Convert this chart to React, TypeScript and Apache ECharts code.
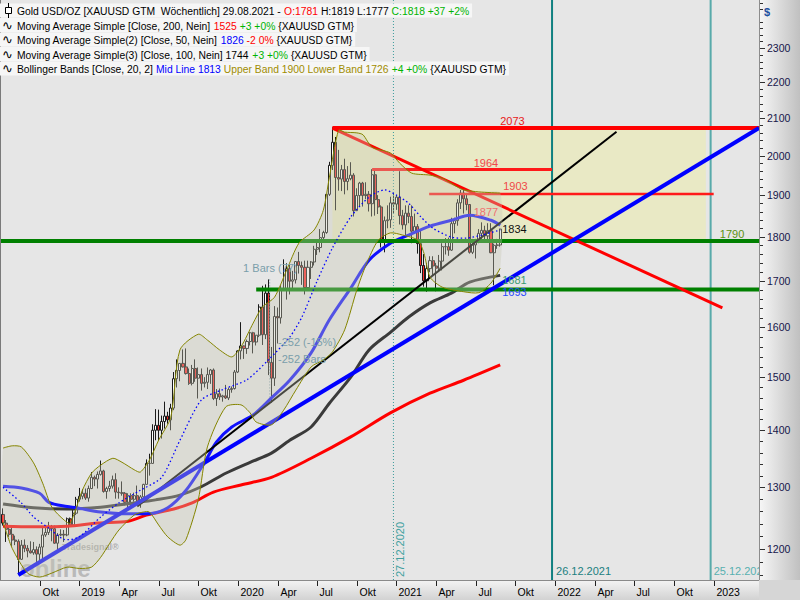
import React, { useEffect, useRef } from "react";
import * as echarts from "echarts";

const FONT = "'Liberation Sans', Arial, sans-serif";

// ---------- axes ----------
const FIRST_WEEK = "2018-07-15"; // weekly bars, dated by the Sunday closing the week
const X_MIN = "2018-07-08";
const X_MAX = "2023-04-15";
const Y_MIN = 1152.6;
const Y_MAX = 2448;
const yTickValues = [1200, 1300, 1400, 1500, 1600, 1700, 1800, 1900, 2000, 2100, 2200, 2300];
const xTickDates = ["2018-10-07", "2019-01-06", "2019-04-07", "2019-07-07", "2019-10-06", "2020-01-05", "2020-04-05", "2020-07-05", "2020-10-04", "2021-01-03", "2021-04-04", "2021-07-04", "2021-10-03", "2022-01-02", "2022-04-03", "2022-07-03", "2022-10-02", "2023-01-01"];
const xTickLabels = ["Okt", "2019", "Apr", "Jul", "Okt", "2020", "Apr", "Jul", "Okt", "2021", "Apr", "Jul", "Okt", "2022", "Apr", "Jul", "Okt", "2023"];

// ---------- weekly candles [open, high, low, close] ----------
const ohlc: number[][] = [
  [1255, 1265, 1237, 1241], [1241, 1246, 1211, 1231], [1231, 1236, 1219, 1223], [1223, 1236, 1204, 1214],
  [1214, 1221, 1206, 1212], [1212, 1215, 1160, 1184], [1184, 1214, 1183, 1206], [1206, 1215, 1195, 1201],
  [1201, 1206, 1187, 1197], [1197, 1212, 1193, 1194], [1194, 1211, 1191, 1199], [1199, 1204, 1180, 1192],
  [1192, 1208, 1182, 1203], [1203, 1233, 1182, 1222], [1222, 1234, 1219, 1226], [1226, 1243, 1222, 1233],
  [1233, 1238, 1212, 1232], [1232, 1237, 1208, 1209], [1209, 1225, 1196, 1222], [1222, 1231, 1220, 1223],
  [1223, 1230, 1211, 1222], [1222, 1250, 1220, 1248], [1248, 1250, 1235, 1238], [1238, 1264, 1237, 1257],
  [1257, 1284, 1254, 1280], [1280, 1299, 1276, 1285], [1285, 1297, 1280, 1290], [1290, 1298, 1279, 1282],
  [1282, 1303, 1276, 1298], [1298, 1326, 1297, 1317], [1317, 1320, 1302, 1314], [1314, 1327, 1298, 1322],
  [1322, 1346, 1320, 1328], [1328, 1330, 1291, 1293], [1293, 1301, 1281, 1298], [1298, 1311, 1293, 1302],
  [1302, 1320, 1298, 1313], [1313, 1324, 1281, 1292], [1292, 1300, 1281, 1291], [1291, 1310, 1286, 1290],
  [1290, 1292, 1270, 1275], [1275, 1290, 1266, 1286], [1286, 1290, 1267, 1280], [1280, 1291, 1276, 1286],
  [1286, 1303, 1274, 1277], [1277, 1287, 1266, 1284], [1284, 1306, 1280, 1305], [1305, 1348, 1305, 1341],
  [1341, 1358, 1320, 1341], [1341, 1411, 1341, 1400], [1400, 1439, 1382, 1409], [1409, 1438, 1381, 1400],
  [1400, 1427, 1385, 1416], [1416, 1453, 1403, 1426], [1426, 1434, 1412, 1419], [1419, 1449, 1400, 1441],
  [1441, 1510, 1437, 1497], [1497, 1535, 1480, 1513], [1513, 1527, 1492, 1527], [1527, 1555, 1519, 1520],
  [1520, 1557, 1505, 1507], [1507, 1517, 1485, 1488], [1488, 1524, 1484, 1517], [1517, 1535, 1491, 1498],
  [1498, 1519, 1459, 1505], [1505, 1517, 1474, 1488], [1488, 1500, 1480, 1490], [1490, 1519, 1477, 1505],
  [1505, 1516, 1487, 1514], [1514, 1517, 1456, 1459], [1459, 1477, 1445, 1468], [1468, 1478, 1456, 1462],
  [1462, 1466, 1453, 1464], [1464, 1485, 1458, 1460], [1460, 1480, 1456, 1476], [1476, 1482, 1470, 1478],
  [1478, 1514, 1476, 1510], [1510, 1553, 1508, 1552], [1552, 1611, 1535, 1562], [1562, 1563, 1536, 1557],
  [1557, 1575, 1546, 1571], [1571, 1591, 1563, 1589], [1589, 1591, 1547, 1570], [1570, 1584, 1563, 1584],
  [1584, 1649, 1580, 1643], [1643, 1689, 1564, 1585], [1585, 1692, 1576, 1673], [1673, 1703, 1504, 1529],
  [1529, 1560, 1451, 1498], [1498, 1645, 1483, 1623], [1623, 1642, 1567, 1620], [1620, 1690, 1608, 1683],
  [1683, 1748, 1680, 1683], [1683, 1739, 1659, 1727], [1727, 1736, 1670, 1699], [1699, 1722, 1683, 1702],
  [1702, 1744, 1694, 1743], [1743, 1765, 1716, 1734], [1734, 1743, 1691, 1730], [1730, 1745, 1670, 1685],
  [1685, 1745, 1681, 1730], [1730, 1744, 1704, 1742], [1742, 1779, 1734, 1771], [1771, 1789, 1758, 1775],
  [1775, 1818, 1764, 1798], [1798, 1814, 1792, 1810], [1810, 1902, 1807, 1902], [1902, 1984, 1898, 1975],
  [1975, 2075, 1963, 2035], [2035, 2049, 1863, 1944], [1944, 2015, 1911, 1940], [1940, 1976, 1910, 1964],
  [1964, 1992, 1902, 1934], [1934, 1973, 1912, 1941], [1941, 1983, 1937, 1950], [1950, 1955, 1848, 1862],
  [1862, 1917, 1862, 1899], [1899, 1933, 1873, 1930], [1930, 1933, 1872, 1899], [1899, 1932, 1890, 1902],
  [1902, 1910, 1860, 1879], [1879, 1965, 1848, 1951], [1951, 1966, 1850, 1889], [1889, 1900, 1854, 1871],
  [1871, 1875, 1775, 1788], [1788, 1848, 1764, 1838], [1838, 1875, 1820, 1840], [1840, 1896, 1821, 1881],
  [1881, 1906, 1855, 1878], [1878, 1900, 1864, 1895], [1895, 1960, 1829, 1850], [1850, 1864, 1817, 1828],
  [1828, 1875, 1802, 1856], [1856, 1875, 1832, 1848], [1848, 1875, 1785, 1813], [1813, 1855, 1807, 1824],
  [1824, 1830, 1761, 1784], [1784, 1816, 1717, 1734], [1734, 1760, 1687, 1700], [1700, 1740, 1676, 1727],
  [1727, 1755, 1719, 1745], [1745, 1755, 1712, 1733], [1733, 1740, 1677, 1728], [1728, 1758, 1722, 1744],
  [1744, 1785, 1723, 1777], [1777, 1797, 1759, 1777], [1777, 1798, 1756, 1769], [1769, 1845, 1767, 1831],
  [1831, 1845, 1808, 1838], [1838, 1890, 1826, 1881], [1881, 1913, 1866, 1905], [1905, 1916, 1855, 1891],
  [1891, 1904, 1863, 1877], [1877, 1878, 1761, 1764], [1764, 1795, 1760, 1781], [1781, 1795, 1750, 1787],
  [1787, 1818, 1785, 1808], [1808, 1834, 1791, 1815], [1815, 1826, 1794, 1802], [1802, 1832, 1790, 1814],
  [1814, 1832, 1762, 1763], [1763, 1784, 1690, 1780], [1780, 1795, 1772, 1781], [1781, 1819, 1777, 1818],
];

// ---------- indicators: [week index, value] ----------
const ma200 = [[0, 1236], [10, 1235], [21, 1236], [31, 1241], [41, 1244], [47, 1254], [56, 1264], [62, 1274], [69, 1292], [78, 1304], [88, 1317], [101, 1350], [114, 1388], [127, 1432], [140, 1469], [151, 1494], [163, 1524]];
const ma100 = [[0, 1272], [10, 1266], [21, 1264], [32, 1267], [43, 1274], [50, 1279], [58, 1287], [65, 1301], [73, 1324], [81, 1343], [88, 1359], [94, 1382], [101, 1406], [107, 1450], [114, 1500], [120, 1554], [127, 1590], [133, 1622], [140, 1652], [147, 1673], [153, 1697], [163, 1712]];
const ma50 = [[0, 1302], [6, 1299], [12, 1290], [15, 1275], [21, 1268], [24, 1266], [32, 1259], [41, 1256], [47, 1256], [54, 1266], [60, 1295], [66, 1342], [70, 1379], [75, 1406], [82, 1428], [88, 1460], [94, 1494], [101, 1548], [107, 1616], [114, 1684], [120, 1746], [127, 1785], [133, 1804], [140, 1825], [147, 1839], [153, 1851], [160, 1839], [163, 1827]];
const bbMid = [[0, 1300], [6, 1274], [10, 1251], [15, 1233], [20, 1215], [25, 1219], [32, 1251], [38, 1274], [45, 1295], [52, 1317], [58, 1382], [65, 1456], [72, 1476], [80, 1495], [87, 1534], [94, 1580], [98, 1622], [103, 1700], [108, 1774], [114, 1847], [120, 1895], [125, 1913], [129, 1900], [133, 1880], [137, 1847], [141, 1820], [147, 1799], [152, 1797], [157, 1804], [163, 1816]];
const bbUpper = [[0, 1368], [3, 1372], [6, 1370], [10, 1342], [13, 1307], [16, 1267], [20, 1246], [22, 1241], [26, 1295], [29, 1324], [32, 1338], [36, 1350], [39, 1343], [43, 1330], [45, 1326], [48, 1347], [51, 1382], [55, 1424], [58, 1554], [64, 1586], [67, 1574], [71, 1554], [75, 1540], [78, 1560], [82, 1609], [85, 1643], [89, 1664], [93, 1724], [97, 1785], [102, 1816], [105, 1863], [107, 1945], [110, 2067], [112, 2062], [116, 2060], [118, 2055], [121, 2022], [127, 2007], [130, 1981], [134, 1955], [140, 1950], [144, 1942], [149, 1920], [151, 1913], [156, 1908], [163, 1905]];
const bbLower = [[0, 1243], [3, 1201], [8, 1163], [12, 1157], [16, 1163], [21, 1172], [25, 1170], [29, 1172], [32, 1187], [35, 1209], [38, 1230], [43, 1254], [46, 1259], [48, 1259], [51, 1238], [54, 1219], [58, 1206], [60, 1215], [64, 1279], [67, 1370], [73, 1443], [78, 1447], [81, 1432], [83, 1415], [88, 1410], [92, 1437], [96, 1475], [101, 1520], [105, 1534], [108, 1550], [112, 1595], [116, 1680], [119, 1735], [123, 1792], [127, 1809], [131, 1804], [136, 1792], [138, 1762], [140, 1708], [144, 1686], [151, 1676], [156, 1674], [160, 1695], [163, 1728]];

// ---------- drawn objects: [date, price] ----------
const trendBlue = [["2018-08-19", 1160], ["2023-04-15", 2073]];
const trendBlack = [["2019-05-19", 1268], ["2022-05-23", 2063]];
const trendRed = [["2020-08-09", 2073], ["2023-01-21", 1641]];
const level2073 = [["2020-08-09", 2073], ["2023-04-15", 2073]];
const level1964 = [["2020-11-08", 1964], ["2021-12-26", 1964]];
const level1903 = [["2021-03-19", 1903], ["2023-01-01", 1903]];
const level1790 = [["2018-07-08", 1790], ["2023-04-15", 1790]];
const level1681 = [["2020-02-16", 1681], ["2023-04-15", 1681]];
const zone = [["2020-08-09", 2073], ["2022-12-14", 1790]];
const measure = [["2020-03-18", 1703], ["2020-03-18", 1451]];
const markerDates = ["2020-12-27", "2021-12-26", "2022-12-25"];

// ---------- annotation texts ----------
const labelTexts = ["2073", "1964", "1903", "1877", "1834", "1681", "1693", "1790", "1 Bars (77)", "-252 (-15%)", "-252 Bars", "27.12.2020", "26.12.2021", "25.12.2022"];
const labelDates = ["2021-08-29", "2021-08-29", "2021-08-29", "2021-08-29", "2021-08-29", "2021-08-29", "2021-08-29", "2023-01-15", "2020-01-17", "2020-04-06", "2020-04-06", "2020-12-27", "2021-12-26", "2022-12-25"];
const labelPrices = [2073, 1964, 1903, 1877, 1834, 1681, 1693, 1790, 1728, 1570, 1536, Y_MIN, Y_MIN, Y_MIN];
const labelStyles = [
  { color: "#e82020", align: "left", dx: 0, dy: -7, rot: 0 },
  { color: "#f04848", align: "right", dx: -2, dy: -7, rot: 0 },
  { color: "#f04848", align: "left", dx: 3, dy: -8, rot: 0 },
  { color: "#f07070", align: "right", dx: -2, dy: 7, rot: 0 },
  { color: "#101010", align: "left", dx: 2, dy: 7, rot: 0 },
  { color: "#3a9a70", align: "left", dx: 2, dy: -9, rot: 0 },
  { color: "#2848ff", align: "left", dx: 2, dy: 8, rot: 0 },
  { color: "#5c9010", align: "left", dx: 0, dy: -7, rot: 0 },
  { color: "#7a9eaa", align: "left", dx: 0, dy: 0, rot: 0 },
  { color: "#7a9eaa", align: "left", dx: 0, dy: 0, rot: 0 },
  { color: "#7a9eaa", align: "left", dx: 0, dy: 0, rot: 0 },
  { color: "#40a0a0", align: "left", dx: 7, dy: -3, rot: Math.PI / 2 },
  { color: "#208080", align: "left", dx: 4, dy: -9, rot: 0 },
  { color: "#58b0b0", align: "left", dx: 3, dy: -9, rot: 0 },
];

const legendLines = [
  "{k|Gold USD/OZ [XAUUSD GTM  Wöchentlich] 29.08.2021 - }{r|O:1781}{k| H:1819 L:1777 }{g|C:1818 +37 +2%}",
  "{k|Moving Average Simple [Close, 200, Nein] }{r|1525}{g| +3 +0%} {XAUUSD GTM}",
  "{k|Moving Average Simple(2) [Close, 50, Nein] }{b|1826}{r| -2 0%} {XAUUSD GTM}",
  "{k|Moving Average Simple(3) [Close, 100, Nein] 1744}{g| +3 +0%} {XAUUSD GTM}",
  "{k|Bollinger Bands [Close, 20, 2] }{b|Mid Line 1813}{o| Upper Band 1900 Lower Band 1726}{g| +4 +0%} {XAUUSD GTM}",
];

const DAY = 86400000;
const ts = (s: string) => Date.UTC(+s.slice(0, 4), +s.slice(5, 7) - 1, +s.slice(8, 10));
const weekTs = (i: number) => ts(FIRST_WEEK) + i * 7 * DAY;
const fromSamples = (arr: number[][]) => arr.map(([i, v]) => [weekTs(i), v]);
const fromPairs = (arr: any[][]) => arr.map(([d, v]) => [ts(d), v]);

const mkLine = (data: any[], color: string, width: number, extra: any = {}, smooth: number | boolean = false) => ({
  type: "line",
  data,
  symbol: "none",
  silent: true,
  z: 3,
  smooth,
  lineStyle: { color, width, ...extra },
  animation: false,
});

function buildOption(): any {
  const rich = {
    k: { fill: "#000000", fontSize: 11, fontFamily: FONT },
    r: { fill: "#ff0000", fontSize: 11, fontFamily: FONT },
    g: { fill: "#00b400", fontSize: 11, fontFamily: FONT },
    b: { fill: "#0000ff", fontSize: 11, fontFamily: FONT },
    o: { fill: "#a08c00", fontSize: 11, fontFamily: FONT },
  };
  const legendGraphics: any[] = [];
  legendLines.forEach((t, k) => {
    const yc = 10.5 + k * 14.5;
    legendGraphics.push({
      type: "text",
      x: 0,
      y: yc,
      z: 100,
      scaleX: 0.94,
      style: {
        text: t,
        rich,
        fill: "#000",
        fontSize: 11,
        fontFamily: FONT,
        verticalAlign: "middle",
        backgroundColor: "#f6f6f6",
        padding: [2, 3, 1, 18],
      },
    });
    if (k === 0) {
      legendGraphics.push({ type: "line", z: 101, shape: { x1: 8.5, y1: 3, x2: 8.5, y2: 18 }, style: { stroke: "#000", lineWidth: 1 } });
      legendGraphics.push({ type: "rect", z: 102, shape: { x: 5.5, y: 7.5, width: 6, height: 6 }, style: { fill: "#fff", stroke: "#000", lineWidth: 1 } });
    } else {
      legendGraphics.push({ type: "text", z: 101, x: 2, y: yc, style: { text: "∿", fill: "#000", fontSize: 13, fontFamily: "DejaVu Sans", verticalAlign: "middle" } });
    }
  });

  const yMinor: number[] = [];
  for (let v = 1160; v <= 2440; v += 20) if (v % 100 !== 0) yMinor.push(v);
  const xMaxTs = ts(X_MAX);

  return {
    animation: false,
    backgroundColor: "#e6e6e6",
    grid: { left: 0, top: 0, right: 41, bottom: 20, show: true, backgroundColor: "#e6e6e6", borderWidth: 0 },
    xAxis: { type: "time", min: ts(X_MIN), max: xMaxTs, show: false },
    yAxis: { type: "log", logBase: 10, min: Y_MIN, max: Y_MAX, show: false },
    graphic: [
      {
        type: "rect", z: 0, shape: { x: 759, y: 0, width: 41, height: 580 },
        style: { fill: new echarts.graphic.LinearGradient(0, 0, 1, 0, [{ offset: 0, color: "#f7f7f7" }, { offset: 1, color: "#c0c0c0" }]) },
      },
      {
        type: "rect", z: 0, shape: { x: 0, y: 580, width: 759, height: 20 },
        style: { fill: new echarts.graphic.LinearGradient(0, 0, 0, 1, [{ offset: 0, color: "#f4f4f4" }, { offset: 1, color: "#d2d2d2" }]) },
      },
      { type: "rect", z: 0, shape: { x: 759, y: 580, width: 41, height: 20 }, style: { fill: "#d6d6d6" } },
      { type: "line", z: 50, shape: { x1: 0.5, y1: 0, x2: 0.5, y2: 580 }, style: { stroke: "#7a7a7a", lineWidth: 1 } },
      { type: "line", z: 50, shape: { x1: 0, y1: 580.5, x2: 759, y2: 580.5 }, style: { stroke: "#8a8a8a", lineWidth: 1 } },
      { type: "line", z: 50, shape: { x1: 759.5, y1: 0, x2: 759.5, y2: 580 }, style: { stroke: "#8c8c8c", lineWidth: 1 } },
      { type: "text", z: 50, x: 764, y: 12, style: { text: "$", fill: "#2050a0", font: `bold 11px ${FONT}`, verticalAlign: "middle" } },
      { type: "text", z: 1, x: 62, y: 547, style: { text: "Tradesignal®", fill: "rgba(120,120,120,0.55)", font: `bold 9px ${FONT}`, verticalAlign: "middle" } },
      { type: "text", z: 1, x: 20, y: 568, style: { text: "online", fill: "rgba(140,140,140,0.5)", font: `bold 24px ${FONT}`, verticalAlign: "middle" } },
      ...legendGraphics,
    ],
    series: [
      // shaded zone
      {
        type: "custom", z: 1, silent: true, clip: true,
        data: [[ts(zone[0][0] as string), zone[0][1], ts(zone[1][0] as string), zone[1][1]]],
        encode: { x: [0, 2], y: [1, 3] },
        renderItem: (_p: any, api: any) => {
          const a = api.coord([api.value(0), api.value(1)]);
          const b = api.coord([api.value(2), api.value(3)]);
          return { type: "rect", shape: { x: a[0], y: a[1], width: b[0] - a[0], height: b[1] - a[1] }, style: { fill: "#e9e9c5" } };
        },
      },
      // candles
      {
        type: "candlestick",
        z: 2,
        silent: true,
        barWidth: 2.6,
        data: ohlc.map((r, i) => [weekTs(i), r[0], r[3], r[2], r[1]]),
        encode: { x: 0, y: [1, 2, 3, 4] },
        itemStyle: { color: "#ffffff", color0: "#ff2a2a", borderColor: "#1a1a1a", borderColor0: "#1a1a1a", borderWidth: 1 },
      },
      // vertical date markers
      mkLine([[ts(markerDates[0]), Y_MIN], [ts(markerDates[0]), Y_MAX]], "#3c9c9c", 1, { type: [1, 2] }),
      mkLine([[ts(markerDates[1]), Y_MIN], [ts(markerDates[1]), Y_MAX]], "#108080", 2),
      mkLine([[ts(markerDates[2]), Y_MIN], [ts(markerDates[2]), Y_MAX]], "#58aaaa", 2),
      mkLine(fromPairs(measure), "#7a9eaa", 1, { type: [1, 2] }),
      // moving averages
      mkLine(fromSamples(ma200), "#ff0000", 3, {}, 0.3),
      mkLine(fromSamples(ma100), "#3a3a3a", 3, {}, 0.3),
      mkLine(fromSamples(ma50), "#1010ff", 3, {}, 0.3),
      // horizontal levels
      mkLine(fromPairs(level1790), "#008000", 4),
      mkLine(fromPairs(level1681), "#008000", 4),
      mkLine(fromPairs(level2073), "#ff0000", 4),
      mkLine(fromPairs(level1964), "#ff1a1a", 3),
      mkLine(fromPairs(level1903), "#ff1a1a", 2.5),
      // trend lines
      mkLine(fromPairs(trendBlack), "#000000", 2),
      mkLine(fromPairs(trendRed), "#ff0000", 3),
      mkLine(fromPairs(trendBlue), "#0000ff", 4),
      // Bollinger bands (fill overlays everything below)
      {
        type: "custom", z: 4, silent: true, clip: true,
        data: [[weekTs(80), 1500]],
        encode: { x: 0, y: 1 },
        renderItem: (_p: any, api: any) => {
          const pts = (arr: number[][]) => arr.map(([i, v]) => api.coord([weekTs(i), v]));
          const up = pts(bbUpper);
          const lo = pts(bbLower);
          const mid = pts(bbMid);
          return {
            type: "group",
            children: [
              { type: "polygon", shape: { points: up.concat(lo.slice().reverse()), smooth: 0.25 }, style: { fill: "rgba(200,200,180,0.36)" } },
              { type: "polyline", shape: { points: up, smooth: 0.25 }, style: { stroke: "#858500", lineWidth: 1, fill: "none" } },
              { type: "polyline", shape: { points: lo, smooth: 0.25 }, style: { stroke: "#858500", lineWidth: 1, fill: "none" } },
              { type: "polyline", shape: { points: mid, smooth: 0.25 }, style: { stroke: "#0000ff", lineWidth: 1.3, lineDash: [1.5, 2.5], fill: "none" } },
            ],
          };
        },
      },
      // annotation texts
      {
        type: "custom", z: 6, silent: true, clip: true,
        data: labelTexts.map((_t, k) => [ts(labelDates[k]), labelPrices[k]]),
        encode: { x: 0, y: 1 },
        renderItem: (params: any, api: any) => {
          const k = params.dataIndex;
          const s = labelStyles[k];
          const p = api.coord([api.value(0), api.value(1)]);
          return {
            type: "text",
            x: p[0] + s.dx,
            y: p[1] + s.dy,
            rotation: s.rot,
            style: { text: labelTexts[k], fill: s.color, font: `11px ${FONT}`, align: s.align, verticalAlign: "middle" },
          };
        },
      },
      // price scale (right)
      {
        type: "custom", z: 6, silent: true, clip: false,
        data: [...yTickValues.map((v) => [xMaxTs, v, 1]), ...yMinor.map((v) => [xMaxTs, v, 0])],
        encode: { x: 0, y: 1 },
        renderItem: (_p: any, api: any) => {
          const p = api.coord([api.value(0), api.value(1)]);
          const major = api.value(2) === 1;
          const y = Math.round(p[1]) + 0.5;
          const children: any[] = [
            { type: "line", shape: { x1: p[0] + 1, y1: y, x2: p[0] + (major ? 6 : 4), y2: y }, style: { stroke: "#303030", lineWidth: 1 } },
          ];
          if (major) {
            children.push({ type: "text", x: p[0] + 8, y: p[1], style: { text: String(api.value(1)), fill: "#16164a", font: `10.5px ${FONT}`, verticalAlign: "middle" } });
          }
          return { type: "group", children };
        },
      },
      // time scale (bottom)
      {
        type: "custom", z: 6, silent: true, clip: false,
        data: xTickDates.map((d) => [ts(d), Y_MIN]),
        encode: { x: 0, y: 1 },
        renderItem: (params: any, api: any) => {
          const p = api.coord([api.value(0), api.value(1)]);
          const x = Math.round(p[0]) + 0.5;
          return {
            type: "group",
            children: [
              { type: "line", shape: { x1: x, y1: p[1] + 1, x2: x, y2: p[1] + 6 }, style: { stroke: "#202020", lineWidth: 1 } },
              { type: "text", x: x + 2, y: p[1] + 12, style: { text: xTickLabels[params.dataIndex], fill: "#000", font: `10.5px ${FONT}`, verticalAlign: "middle" } },
            ],
          };
        },
      },
    ],
  };
}

export default function App() {
  const ref = useRef<HTMLDivElement>(null);
  useEffect(() => {
    if (!ref.current) return;
    const chart = echarts.init(ref.current, undefined, { renderer: "svg" });
    chart.setOption(buildOption());
    return () => chart.dispose();
  }, []);
  return <div ref={ref} style={{ position: "absolute", left: 0, top: 0, width: 800, height: 600 }} />;
}
